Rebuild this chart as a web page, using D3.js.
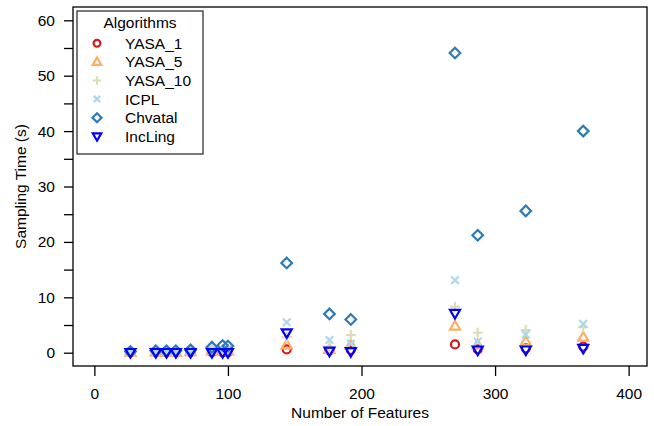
<!DOCTYPE html>
<html>
<head>
<meta charset="utf-8">
<script src="https://cdn.jsdelivr.net/npm/d3@7"></script>
<style>
  body { margin: 0; background: #fff; }
  text { font-family: "Liberation Sans", Arial, sans-serif; fill: #000; }
</style>
</head>
<body>
<div id="chart"></div>
<script>
// number of features of each model
const features = [27, 46, 54, 61, 72, 88, 96, 100, 144, 176, 192, 270, 287, 323, 366];

// sampling time (s) per algorithm
const yasa1   = [0.05, 0.05, 0.05, 0.05, 0.1, 0.1, 0.1, 0.1, 0.6, 0.4, 0.5, 1.5, 0.6, 0.8, 1.1];
const yasa5   = [0.1, 0.1, 0.1, 0.1, 0.2, 0.3, 0.3, 0.3, 1.4, 0.6, 1.4, 4.8, 1.4, 2.0, 2.8];
const yasa10  = [0.1, 0.1, 0.1, 0.2, 0.3, 0.4, 0.4, 0.4, 2.8, 1.0, 3.2, 8.3, 3.6, 4.1, 4.6];
const icpl    = [0.1, 0.2, 0.2, 0.2, 0.3, 0.5, 0.6, 0.6, 5.5, 2.3, 1.6, 13.1, 2.0, 3.3, 5.2];
const chvatal = [0.2, 0.35, 0.35, 0.35, 0.5, 1.0, 1.3, 1.2, 16.2, 7.0, 6.0, 54.1, 21.2, 25.6, 40.0];
const incling = [0.05, 0.05, 0.05, 0.05, 0.05, 0.05, 0.05, 0.05, 3.6, 0.3, 0.2, 7.1, 0.5, 0.5, 0.8];

const algorithms = ['YASA_1', 'YASA_5', 'YASA_10', 'ICPL', 'Chvatal', 'IncLing'];
const values = [yasa1, yasa5, yasa10, icpl, chvatal, incling];
const colors = ['#d7191c', '#fdae61', '#dedcb6', '#abd9e9', '#2c7bb6', '#0000ff'];
const shapes = ['circle', 'triUp', 'plus', 'cross', 'diamond', 'triDown'];

const xTicks = [0, 100, 200, 300, 400];
const yTicks = d3.range(0, 61, 5);

const width = 654, height = 426;
const box = {left: 73, right: 647, top: 7, bottom: 366};

function shapePath(shape, k) {
    if (shape === 'circle') {
        const r = 4 * k;
        return `M${-r},0a${r},${r} 0 1,0 ${2 * r},0a${r},${r} 0 1,0 ${-2 * r},0Z`;
    }
    if (shape === 'triUp' || shape === 'triDown') {
        const w = 5 * k, h = 8.6 * k, s = shape === 'triUp' ? 1 : -1;
        return `M0,${-s * h * 0.6}L${w},${s * h * 0.4}L${-w},${s * h * 0.4}Z`;
    }
    if (shape === 'plus') {
        const s = 5 * k;
        return `M${-s},0H${s}M0,${-s}V${s}`;
    }
    if (shape === 'cross') {
        const s = 3.8 * k;
        return `M${-s},${-s}L${s},${s}M${-s},${s}L${s},${-s}`;
    }
    const s = 5.3 * k;
    return `M0,${-s}L${s},0L0,${s}L${-s},0Z`;
}

const svg = d3.select('#chart').append('svg')
    .attr('width', width)
    .attr('height', height);

const xScale = d3.scaleLinear()
    .domain([-16, 416])
    .range([box.left, 650]);

const yScale = d3.scaleLinear()
    .domain([-2.4, 62.4])
    .range([box.bottom, box.top]);

const xAxis = d3.axisBottom(xScale)
    .tickValues(xTicks)
    .tickSize(10)
    .tickSizeOuter(0)
    .tickPadding(12);

const yAxis = d3.axisLeft(yScale)
    .tickValues(yTicks)
    .tickFormat(d => d % 10 === 0 ? d : '')
    .tickSize(9)
    .tickSizeOuter(0)
    .tickPadding(9);

const xAxisGroup = svg.append('g')
    .attr('class', 'axis x-axis')
    .attr('transform', `translate(0, ${box.bottom})`)
    .call(xAxis);

const yAxisGroup = svg.append('g')
    .attr('class', 'axis y-axis')
    .attr('transform', `translate(${box.left}, 0)`)
    .call(yAxis);

svg.selectAll('.axis .domain').remove();
svg.selectAll('.axis line').attr('stroke', '#000').attr('stroke-width', 1.3);
svg.selectAll('.axis text')
    .style('font-size', '15.5px')
    .style('font-family', '"Liberation Sans", Arial, sans-serif');

svg.append('rect')
    .attr('x', box.left)
    .attr('y', box.top)
    .attr('width', box.right - box.left)
    .attr('height', box.bottom - box.top)
    .attr('fill', 'none')
    .attr('stroke', '#000')
    .attr('stroke-width', 1.3);

svg.append('text')
    .attr('x', (box.left + box.right) / 2)
    .attr('y', 412)
    .attr('text-anchor', 'middle')
    .attr('dominant-baseline', 'central')
    .style('font-size', '15.5px')
    .text('Number of Features');

svg.append('text')
    .attr('transform', `translate(20, ${(box.top + box.bottom) / 2}) rotate(-90)`)
    .attr('text-anchor', 'middle')
    .attr('dominant-baseline', 'central')
    .style('font-size', '15.5px')
    .text('Sampling Time (s)');

// points, drawn series by series so IncLing ends on top
values.forEach((series, i) => {
    svg.append('g')
        .selectAll('path')
        .data(series)
        .enter()
        .append('path')
        .attr('d', shapePath(shapes[i], 1))
        .attr('transform', (d, j) => `translate(${xScale(features[j])}, ${yScale(d)})`)
        .attr('fill', 'none')
        .attr('stroke', colors[i])
        .attr('stroke-width', 2.2);
});

// legend
const legend = svg.append('g').attr('class', 'legend');

legend.append('rect')
    .attr('x', 77)
    .attr('y', 11)
    .attr('width', 126)
    .attr('height', 143)
    .attr('fill', '#fff')
    .attr('stroke', '#333')
    .attr('stroke-width', 1.3);

legend.append('text')
    .attr('x', 140)
    .attr('y', 22.5)
    .attr('text-anchor', 'middle')
    .attr('dominant-baseline', 'central')
    .style('font-size', '15.5px')
    .text('Algorithms');

algorithms.forEach((name, i) => {
    const y = 43.3 + i * 18.6;
    legend.append('path')
        .attr('d', shapePath(shapes[i], 0.85))
        .attr('transform', `translate(97, ${y})`)
        .attr('fill', 'none')
        .attr('stroke', colors[i])
        .attr('stroke-width', 2.2);
    legend.append('text')
        .attr('x', 125)
        .attr('y', y)
        .attr('dominant-baseline', 'central')
        .style('font-size', '15.5px')
        .text(name);
});
</script>
</body>
</html>
